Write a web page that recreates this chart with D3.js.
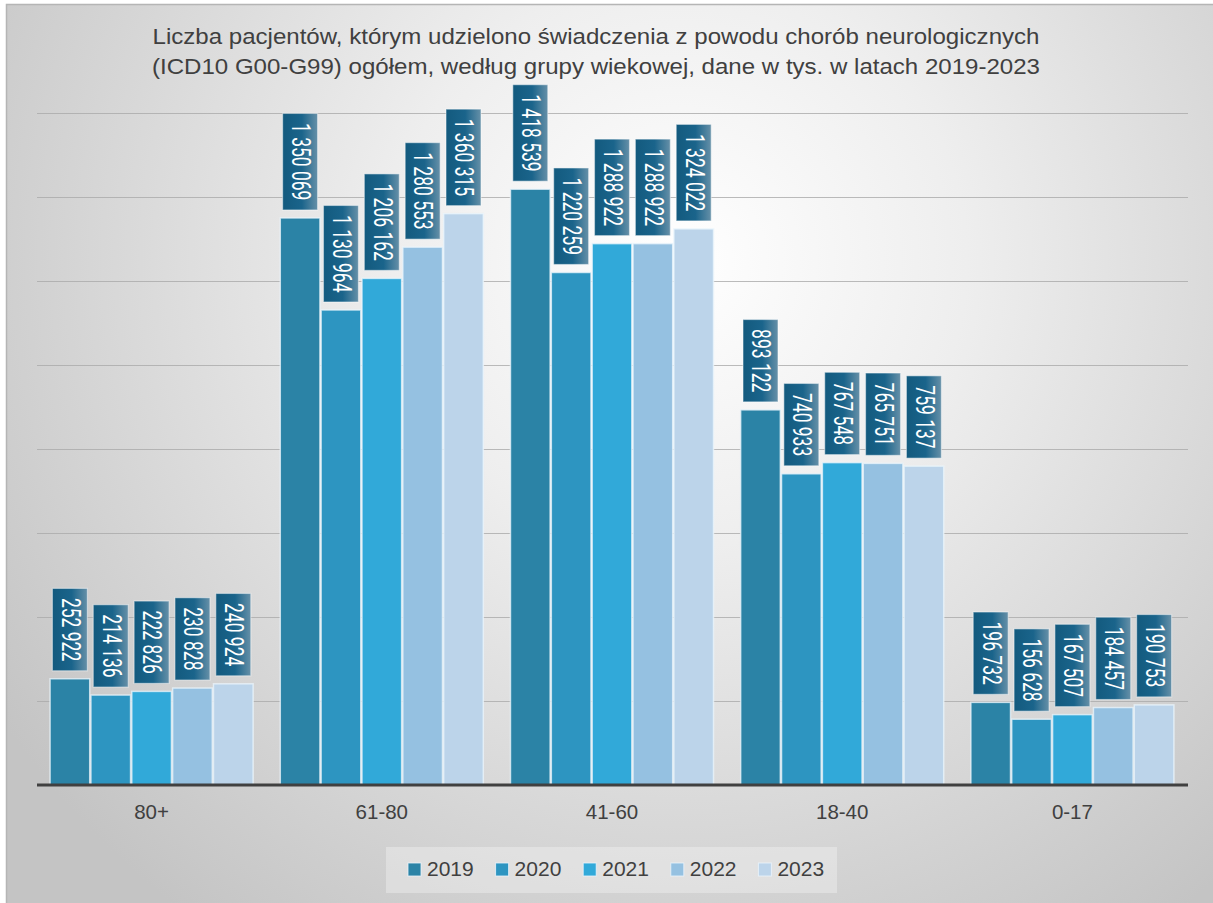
<!DOCTYPE html>
<html><head><meta charset="utf-8">
<script src="https://cdn.jsdelivr.net/npm/d3@7"></script>
<style>html,body{margin:0;padding:0;background:#fff;}svg{display:block;}</style>
</head><body>
<script>
const categories = ["80+", "61-80", "41-60", "18-40", "0-17"];
const years = ["2019", "2020", "2021", "2022", "2023"];
const v2019 = [252922, 1350069, 1418539, 893122, 196732];
const v2020 = [214136, 1130964, 1220259, 740933, 156628];
const v2021 = [222826, 1206162, 1288922, 767548, 167507];
const v2022 = [230828, 1280553, 1288922, 765751, 184457];
const v2023 = [240924, 1360315, 1324022, 759137, 190753];
const seriesValues = [v2019, v2020, v2021, v2022, v2023];
const yTicks = [0, 200000, 400000, 600000, 800000, 1000000, 1200000, 1400000, 1600000];
const colors = ["#2b83a6", "#2d95c1", "#31a9d9", "#95c1e1", "#bcd4ea"];
const titleLines = ["Liczba pacjentów, którym udzielono świadczenia z powodu chorób neurologicznych",
                    "(ICD10 G00-G99) ogółem, według grupy wiekowej, dane w tys. w latach 2019-2023"];

const W = 1213, H = 903;
const svg = d3.select("body").append("svg").attr("width", W).attr("height", H);
const defs = svg.append("defs");
const rg = defs.append("radialGradient").attr("id", "bg")
  .attr("gradientUnits", "userSpaceOnUse").attr("cx", 680).attr("cy", 260).attr("r", 820);
rg.append("stop").attr("offset", "0").attr("stop-color", "#ffffff");
rg.append("stop").attr("offset", "0.35").attr("stop-color", "#eeeeee");
rg.append("stop").attr("offset", "0.75").attr("stop-color", "#d4d4d4");
rg.append("stop").attr("offset", "1").attr("stop-color", "#c4c4c4");
const lg = defs.append("linearGradient").attr("id", "lbl").attr("x1", 0).attr("x2", 1).attr("y1", 0).attr("y2", 0);
lg.append("stop").attr("offset", "0").attr("stop-color", "#135a7e");
lg.append("stop").attr("offset", "0.55").attr("stop-color", "#1a648b");
lg.append("stop").attr("offset", "1").attr("stop-color", "#6690a8");

svg.append("rect").attr("x", 6).attr("y", 4).attr("width", W - 6).attr("height", H - 4)
  .attr("fill", "url(#bg)");
svg.append("path").attr("d", `M6.5,${H} V4.5 H${W}`).attr("fill", "none").attr("stroke", "#b5b5b5").attr("stroke-width", 1.5);

// title
const titleWidths = [887, 888];
svg.append("g").selectAll("text").data(titleLines).join("text")
  .attr("x", 596).attr("y", (d, i) => 44 + i * 29.5)
  .attr("text-anchor", "middle")
  .attr("font-family", "Liberation Sans, Arial, sans-serif")
  .attr("font-size", 22.5).attr("fill", "#404040")
  .attr("textLength", (d, i) => titleWidths[i]).attr("lengthAdjust", "spacingAndGlyphs")
  .text(d => d);

const x0 = d3.scaleBand().domain(categories).range([36.5, 1187.5]).paddingInner(0.118).paddingOuter(0.059);
const x1 = d3.scaleBand().domain(years).range([0, x0.bandwidth()]).paddingInner(0.03);
const y = d3.scaleLinear().domain([0, 1600000]).range([785, 113]);

// gridlines
const yAxis = d3.axisLeft(y).tickValues(yTicks.slice(1)).tickSize(-(1188 - 37)).tickFormat("");
const gy = svg.append("g").attr("transform", "translate(37,0)").call(yAxis);
gy.select(".domain").remove();
gy.selectAll(".tick line").attr("stroke", "#aaaaaa").attr("stroke-width", 1.2).attr("stroke-opacity", 0.8);

// bars
const fmt = v => d3.format(",")(v).replace(/,/g, " ");
const groups = svg.append("g").selectAll("g").data(categories).join("g")
  .attr("transform", d => `translate(${x0(d)},0)`);
groups.selectAll("rect").data((c, ci) => years.map((yr, si) => ({yr, si, v: seriesValues[si][ci]}))).join("rect")
  .attr("x", d => x1(d.yr)).attr("width", x1.bandwidth())
  .attr("y", d => y(d.v)).attr("height", d => y(0) - y(d.v))
  .attr("fill", d => colors[d.si])
  .attr("stroke", "rgba(235,245,252,0.75)").attr("stroke-width", 1.5);

// axis line
const xAxis = d3.axisBottom(x0).tickSize(0).tickPadding(24);
const gx = svg.append("g").attr("transform", "translate(0,785)").call(xAxis);
gx.select(".domain").attr("stroke", "#404040").attr("stroke-width", 3).attr("d", "M37,0H1188");
gx.selectAll(".tick text").attr("font-family", "Liberation Sans, Arial, sans-serif")
  .attr("font-size", 20.5).attr("fill", "#404040").attr("dy", "0.5em");

// labels
const SX = 0.7;
groups.each(function(c, ci) {
  const g = d3.select(this);
  years.forEach((yr, si) => {
    const v = seriesValues[si][ci];
    const cx = x1(yr) + x1.bandwidth() / 2;
    const lab = g.append("g");
    const rect = lab.append("rect");
    const t = lab.append("text").text(fmt(v))
      .attr("font-family", "Roboto, sans-serif").attr("font-size", 25)
      .attr("fill", "#ffffff").attr("text-anchor", "middle").attr("dominant-baseline", "central");
    const len = t.node().getComputedTextLength() * SX;
    const h = len + 19;
    const yb = y(v) - 8;
    const yt = yb - h;
    rect.attr("x", cx - 17.5).attr("y", yt).attr("width", 35).attr("height", h)
      .attr("fill", "url(#lbl)").attr("stroke", "rgba(255,255,255,0.45)").attr("stroke-width", 1.2);
    t.attr("transform", `translate(${cx + 0.5},${(yt + yb) / 2}) rotate(90) scale(${SX},1)`);
  });
});

// legend
const lgG = svg.append("g");
lgG.append("rect").attr("x", 386).attr("y", 847).attr("width", 451).attr("height", 46)
  .attr("fill", "rgba(255,255,255,0.3)");
const items = lgG.selectAll("g").data(years).join("g")
  .attr("transform", (d, i) => `translate(${408 + i * 87.6},863)`);
items.append("rect").attr("width", 13).attr("height", 13)
  .attr("fill", (d, i) => colors[i]).attr("stroke", "rgba(235,245,252,0.8)").attr("stroke-width", 1);
items.append("text").attr("x", 19).attr("y", 13)
  .attr("font-family", "Liberation Sans, Arial, sans-serif").attr("font-size", 21)
  .attr("fill", "#404040").text(d => d);
</script>
</body></html>
